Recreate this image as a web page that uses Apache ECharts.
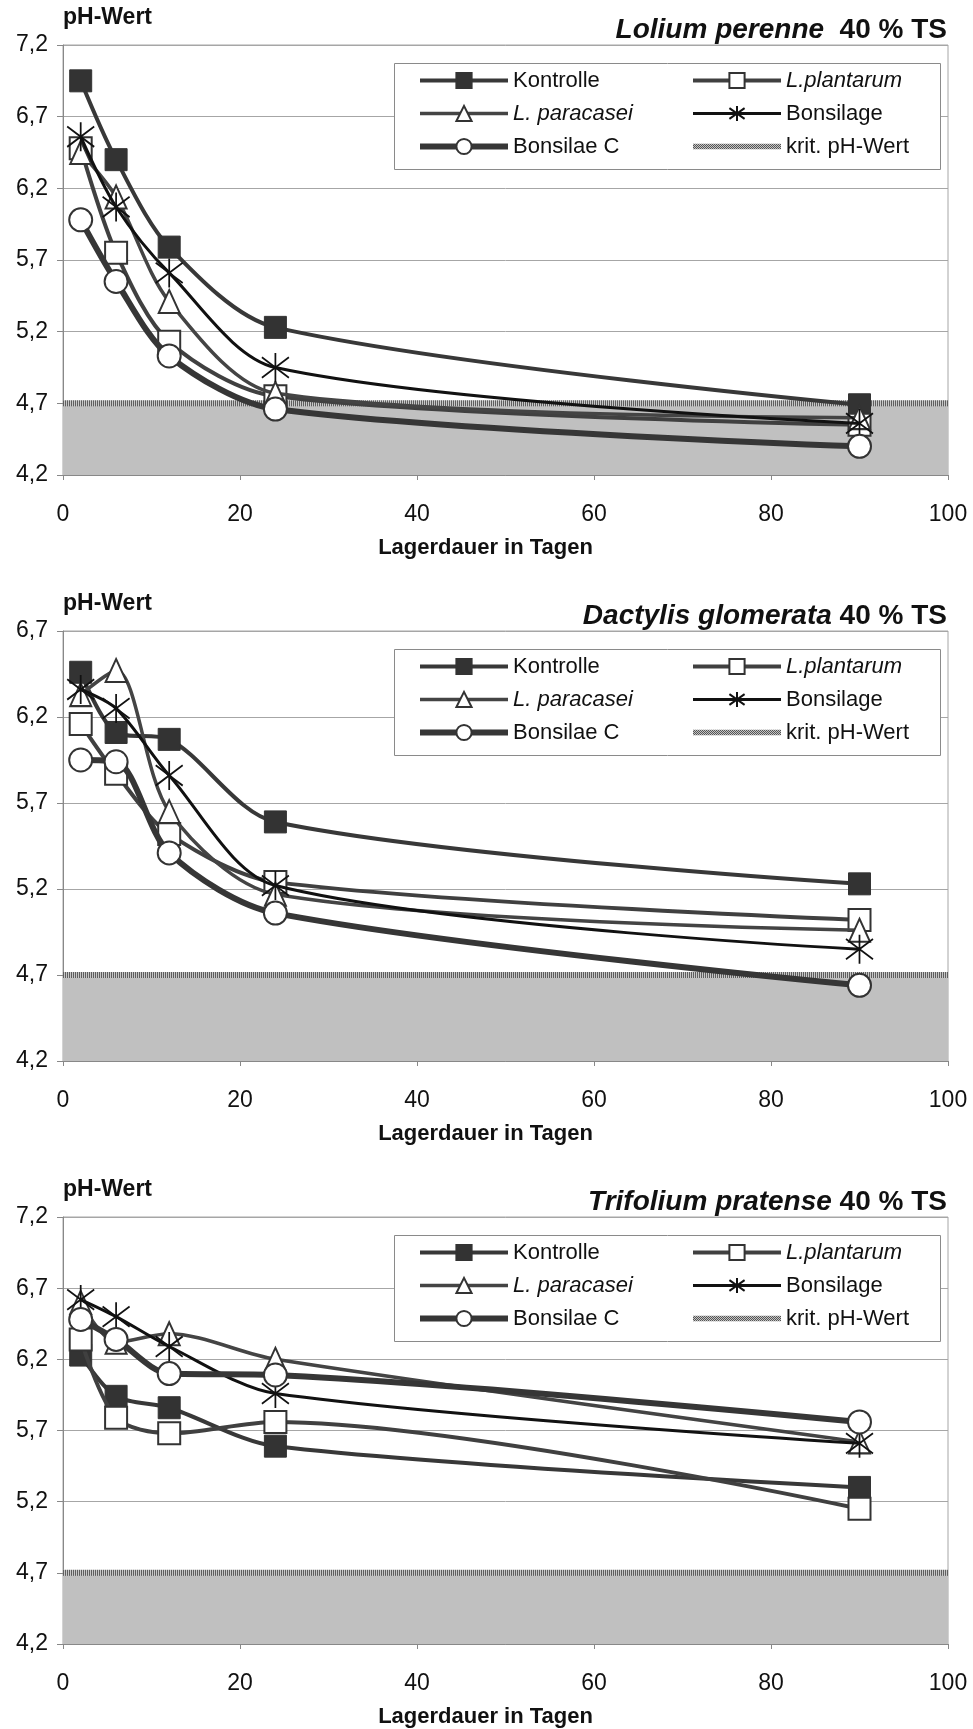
<!DOCTYPE html>
<html><head><meta charset="utf-8">
<script src="https://cdn.jsdelivr.net/npm/echarts@6/dist/echarts.min.js"></script>
<style>html,body{margin:0;padding:0;background:#fff}#c{width:973px;height:1729px}</style>
</head><body><div id="c"></div>
<script>
// ---------- data ----------
const days = [2, 6, 12, 24, 90];
const seriesNames = ['Kontrolle', 'L.plantarum', 'L. paracasei', 'Bonsilage', 'Bonsilae C', 'krit. pH-Wert'];
const xTickValues = [0, 20, 40, 60, 80, 100];
const critPH = 4.7;
const yMinVals = [4.2, 4.2, 4.2];
const yMaxVals = [7.2, 6.7, 7.2];
const panelSpecies = ['Lolium perenne', 'Dactylis glomerata', 'Trifolium pratense'];
const panelSuffix = ['  40 % TS', ' 40 % TS', ' 40 % TS'];
const yTitle = 'pH-Wert';
const xTitle = 'Lagerdauer in Tagen';

// Lolium perenne
const lolKontrolle = [6.95, 6.40, 5.79, 5.23, 4.69];
const lolPlantarum = [6.48, 5.75, 5.13, 4.75, 4.55];
const lolParacasei = [6.45, 6.14, 5.41, 4.77, 4.60];
const lolBonsilage = [6.56, 6.07, 5.61, 4.95, 4.56];
const lolBonsilaeC = [5.98, 5.55, 5.03, 4.66, 4.40];
// Dactylis glomerata
const dacKontrolle = [6.46, 6.11, 6.07, 5.59, 5.23];
const dacPlantarum = [6.16, 5.87, 5.52, 5.24, 5.02];
const dacParacasei = [6.33, 6.47, 5.65, 5.17, 4.96];
const dacBonsilage = [6.36, 6.25, 5.86, 5.22, 4.85];
const dacBonsilaeC = [5.95, 5.94, 5.41, 5.06, 4.64];
// Trifolium pratense
const triKontrolle = [6.23, 5.94, 5.86, 5.59, 5.30];
const triPlantarum = [6.34, 5.79, 5.68, 5.76, 5.15];
const triParacasei = [6.60, 6.32, 6.38, 6.20, 5.62];
const triBonsilage = [6.62, 6.50, 6.29, 5.96, 5.61];
const triBonsilaeC = [6.48, 6.34, 6.10, 6.09, 5.76];

const panels = [
  [lolKontrolle, lolPlantarum, lolParacasei, lolBonsilage, lolBonsilaeC],
  [dacKontrolle, dacPlantarum, dacParacasei, dacBonsilage, dacBonsilaeC],
  [triKontrolle, triPlantarum, triParacasei, triBonsilage, triBonsilaeC]
];

// ---------- styles / layout ----------
const FONT = "'Liberation Sans', Arial, sans-serif";
const gridTops = [45, 631, 1217];
const gridH = 430;
const gridLeft = 63, gridRight = 25;
const ASTER = 'path://M10 0 L10 20 M1 3 L19 17 M19 3 L1 17';
const styles = [
  { symbol: 'rect', size: 22, line: { color: '#383838', width: 4 }, item: { color: '#333', borderColor: '#333', borderWidth: 1 } },
  { symbol: 'rect', size: 22, line: { color: '#404040', width: 4 }, item: { color: '#fff', borderColor: '#333', borderWidth: 2 } },
  { symbol: 'triangle', size: [21, 23], line: { color: '#444', width: 3.5 }, item: { color: '#fff', borderColor: '#333', borderWidth: 2 } },
  { symbol: ASTER, size: [27, 29], line: { color: '#111', width: 3 }, item: { color: '#111', borderColor: '#111', borderWidth: 1.8 } },
  { symbol: 'circle', size: 23, line: { color: '#363636', width: 6 }, item: { color: '#fff', borderColor: '#333', borderWidth: 2 } }
];

// checker pattern for critical line legend
const pc = document.createElement('canvas');
pc.width = 2; pc.height = 2;
const pctx = pc.getContext('2d');
pctx.fillStyle = '#c4c4c4'; pctx.fillRect(0, 0, 2, 2);
pctx.fillStyle = '#555555'; pctx.fillRect(0, 0, 1, 1); pctx.fillRect(1, 1, 1, 1);
const checker = { image: pc, repeat: 'repeat' };

const grids = [], xAxes = [], yAxes = [], series = [], legends = [], graphics = [];
const italicFmt = n => (n.indexOf('L.') === 0 ? '{i|' + n + '}' : n);
const legItem = s => ({ name: seriesNames[s], lineStyle: { width: styles[s].line.width, color: styles[s].line.color } });

panels.forEach((vals, p) => {
  const top = gridTops[p];
  grids.push({ left: gridLeft, right: gridRight, top: top, height: gridH, show: true, borderColor: '#a6a6a6', borderWidth: 1, backgroundColor: '#fff' });
  xAxes.push({
    type: 'value', gridIndex: p, min: xTickValues[0], max: xTickValues[xTickValues.length - 1], interval: xTickValues[1] - xTickValues[0],
    name: xTitle, nameLocation: 'middle', nameGap: 62,
    nameTextStyle: { fontFamily: FONT, fontSize: 22, fontWeight: 'bold', color: '#111', padding: [0, 40, 0, 0] },
    axisLine: { lineStyle: { color: '#888', width: 1 } },
    axisTick: { show: true, length: 5, lineStyle: { color: '#888' } },
    axisLabel: { margin: 28, fontFamily: FONT, fontSize: 23, color: '#111' },
    splitLine: { show: false }
  });
  yAxes.push({
    type: 'value', gridIndex: p, min: yMinVals[p], max: yMaxVals[p], interval: 0.5,
    axisLine: { show: true, lineStyle: { color: '#888', width: 1 } },
    axisTick: { show: true, length: 6, lineStyle: { color: '#888' } },
    axisLabel: { margin: 15, fontFamily: FONT, fontSize: 23, color: '#111', formatter: v => v.toFixed(1).replace('.', ',') },
    splitLine: { show: true, lineStyle: { color: '#a6a6a6', width: 1 } }
  });
  // critical line + grey zone
  series.push({
    name: '_kritBg', type: 'line', xAxisIndex: p, yAxisIndex: p, symbol: 'none', silent: true,
    data: [[xTickValues[0], critPH], [xTickValues[xTickValues.length - 1], critPH]],
    lineStyle: { color: '#c8c8c8', width: 6 }, z: 1,
    markArea: { silent: true, itemStyle: { color: '#c0c0c0' }, data: [[{ yAxis: yMinVals[p] }, { yAxis: critPH }]] }
  });
  series.push({
    name: seriesNames[5], type: 'line', xAxisIndex: p, yAxisIndex: p, symbol: 'none', silent: true,
    data: [[xTickValues[0], critPH], [xTickValues[xTickValues.length - 1], critPH]],
    lineStyle: { color: '#5e5e5e', width: 6, type: [1, 1] }, itemStyle: { color: '#888' }, z: 1
  });
  vals.forEach((arr, s) => {
    const st = styles[s];
    series.push({
      name: seriesNames[s], type: 'line', xAxisIndex: p, yAxisIndex: p,
      data: days.map((d, k) => [d, arr[k]]),
      smooth: 0.3, symbol: st.symbol, symbolSize: st.size, showAllSymbol: true,
      lineStyle: st.line, itemStyle: st.item, z: 2 + s * 0.1,
      emphasis: { disabled: true }
    });
  });
  const boxTop = top + 18;
  const legCommon = {
    orient: 'vertical', top: boxTop + 6, itemWidth: 88, itemHeight: 19, itemGap: 10, padding: 0,
    selectedMode: false, formatter: italicFmt,
    textStyle: { fontFamily: FONT, fontSize: 22, color: '#111', lineHeight: 23, rich: { i: { fontFamily: FONT, fontSize: 22, fontStyle: 'italic', color: '#111' } } }
  };
  legends.push(Object.assign({}, legCommon, { left: 417, data: [legItem(0), legItem(2), legItem(4)] }));
  legends.push(Object.assign({}, legCommon, { left: 691, data: [legItem(1), legItem(3),
    { name: seriesNames[5], icon: 'path://M0 0 L0 0 M0 6.5 L100 6.5 L100 12.5 L0 12.5 Z M0 19 L0 19', itemStyle: { color: checker } }] }));
  graphics.push({ type: 'rect', left: 394, top: boxTop, z: 3, shape: { width: 546, height: 106 }, style: { fill: '#fff', stroke: '#8a8a8a', lineWidth: 1 } });
  graphics.push({ type: 'text', x: 63, y: top - 27, z: 5, style: { text: yTitle, font: 'bold 23px ' + FONT, fill: '#111', verticalAlign: 'middle' } });
  graphics.push({ type: 'text', x: 947, y: top - 15, z: 5, style: {
    text: '{a|' + panelSpecies[p] + '}{b|' + panelSuffix[p] + '}', fill: '#111', align: 'right', verticalAlign: 'middle',
    rich: { a: { fontFamily: FONT, fontSize: 28, fontWeight: 'bold', fontStyle: 'italic', fill: '#111' }, b: { fontFamily: FONT, fontSize: 28, fontWeight: 'bold', fill: '#111' } } } });
});

const chart = echarts.init(document.getElementById('c'), null, { renderer: 'canvas' });
chart.setOption({
  backgroundColor: '#fff', animation: false,
  textStyle: { fontFamily: FONT },
  grid: grids, xAxis: xAxes, yAxis: yAxes, legend: legends, series: series, graphic: graphics
});
</script></body></html>
